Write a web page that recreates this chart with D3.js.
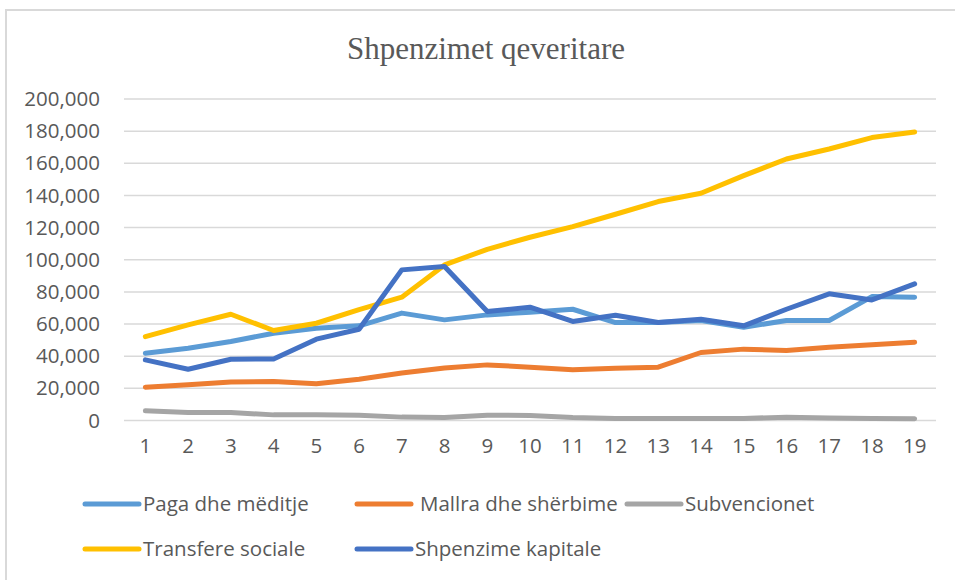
<!DOCTYPE html>
<html>
<head>
<meta charset="utf-8">
<script src="https://cdn.jsdelivr.net/npm/d3@7"></script>
<style>
  body { margin: 0; background: #fff; }
  svg { display: block; }
</style>
</head>
<body>
<div id="chart"></div>
<script>
(function() {
  'use strict';

  // data
  var years = [1, 2, 3, 4, 5, 6, 7, 8, 9, 10, 11, 12, 13, 14, 15, 16, 17, 18, 19];
  var seriesNames = ["Paga dhe mëditje", "Mallra dhe shërbime", "Subvencionet", "Transfere sociale", "Shpenzime kapitale"];
  var paga = [41900, 45000, 49100, 54300, 57400, 58900, 66800, 62600, 65700, 67400, 69200, 60900, 61000, 62200, 58000, 62200, 62200, 77100, 76700];
  var mallra = [20700, 22200, 23900, 24300, 22800, 25700, 29500, 32600, 34600, 33200, 31500, 32500, 33200, 42300, 44400, 43600, 45600, 47100, 48700];
  var subvencionet = [6000, 5000, 5000, 3500, 3500, 3300, 2100, 1900, 3300, 3100, 1800, 1300, 1300, 1300, 1300, 2000, 1500, 1200, 1100];
  var transfere = [52200, 59500, 66100, 56000, 60500, 69000, 76700, 96800, 106500, 114000, 120600, 128300, 136200, 141400, 152300, 162700, 168900, 176000, 179500];
  var kapitale = [37700, 31900, 38100, 38300, 50600, 56800, 93700, 95800, 67800, 70500, 61600, 65500, 61000, 63000, 58900, 69200, 78800, 75000, 85000];
  var yTicks = [0, 20000, 40000, 60000, 80000, 100000, 120000, 140000, 160000, 180000, 200000];
  var colors = ["#5B9BD5", "#ED7D31", "#A5A5A5", "#FFC000", "#4472C4"];

  var series = [paga, mallra, subvencionet, transfere, kapitale].map(function(vals, i) {
    return { name: seriesNames[i], color: colors[i], values: vals };
  });

  var width = 955, height = 580;
  var margin = {top: 99, right: 19, bottom: 159, left: 124};
  var textColor = "#595959";
  var font = "'Open Sans', 'Noto Sans', sans-serif";

  var svg = d3.select("#chart").append("svg")
    .attr("width", width)
    .attr("height", height);

  // chart area border (Excel style, cut off on right/bottom)
  svg.append("rect")
    .attr("x", 6).attr("y", 10)
    .attr("width", 960).attr("height", 600)
    .attr("fill", "none")
    .attr("stroke", "#d9d9d9")
    .attr("stroke-width", 2);

  svg.append("text")
    .attr("x", 486).attr("y", 59)
    .attr("text-anchor", "middle")
    .attr("fill", textColor)
    .style("font-family", "'Liberation Serif', 'Times New Roman', serif")
    .style("font-size", "31px")
    .text("Shpenzimet qeveritare");

  var x = d3.scaleBand()
    .domain(years)
    .range([margin.left, width - margin.right]);

  var y = d3.scaleLinear()
    .domain([0, 200000])
    .range([height - margin.bottom - 0.5, margin.top]);

  // gridlines
  svg.append("g")
    .selectAll("line")
    .data(yTicks)
    .join("line")
      .attr("x1", margin.left)
      .attr("x2", width - margin.right)
      .attr("y1", function(d) { return y(d); })
      .attr("y2", function(d) { return y(d); })
      .attr("stroke", "#d9d9d9")
      .attr("stroke-width", 1.5);

  // y axis labels
  var yAxis = d3.axisLeft(y).tickValues(yTicks).tickSize(0).tickPadding(0)
    .tickFormat(d3.format(","));
  svg.append("g")
    .attr("transform", "translate(100,0)")
    .call(yAxis)
    .call(function(g) { g.select(".domain").remove(); })
    .selectAll("text")
      .attr("fill", textColor)
      .style("font-family", font)
      .style("font-size", "20.5px");

  // x axis labels
  var xAxis = d3.axisBottom(x).tickSize(0).tickPadding(0);
  svg.append("g")
    .attr("transform", "translate(0,438)")
    .call(xAxis)
    .call(function(g) { g.select(".domain").remove(); })
    .selectAll("text")
      .attr("fill", textColor)
      .style("font-family", font)
      .style("font-size", "20.5px");

  var line = d3.line()
    .x(function(d, i) { return x(years[i]) + x.bandwidth() / 2; })
    .y(function(d) { return y(d); });

  svg.append("g")
    .selectAll("path")
    .data(series)
    .join("path")
      .attr("d", function(s) { return line(s.values); })
      .attr("fill", "none")
      .attr("stroke", function(s) { return s.color; })
      .attr("stroke-width", 5)
      .attr("stroke-linecap", "round")
      .attr("stroke-linejoin", "round");

  // legend, two rows like the Excel one
  var legendPos = [[85, 504], [357, 504], [627, 504], [85, 549], [357, 549]];
  var textOffset = [58, 63, 58, 58, 58];
  var legend = svg.append("g")
    .selectAll("g")
    .data(series)
    .join("g")
      .attr("transform", function(s, i) { return "translate(" + legendPos[i][0] + "," + legendPos[i][1] + ")"; });

  legend.append("line")
    .attr("x1", 0).attr("x2", 54)
    .attr("stroke", function(s) { return s.color; })
    .attr("stroke-width", 5)
    .attr("stroke-linecap", "round");

  legend.append("text")
    .attr("x", function(s, i) { return textOffset[i]; })
    .attr("dy", "0.35em")
    .attr("fill", textColor)
    .style("font-family", font)
    .style("font-size", "20.5px")
    .text(function(s) { return s.name; });

})();
</script>
</body>
</html>
